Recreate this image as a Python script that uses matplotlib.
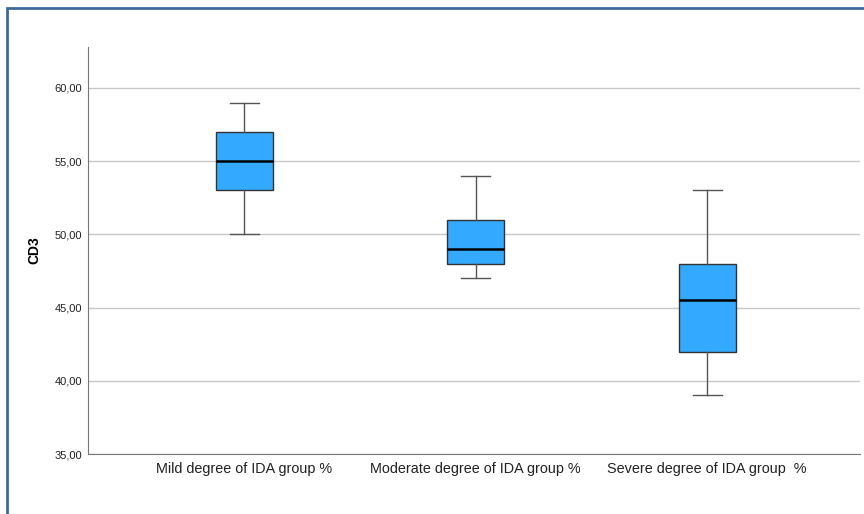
import matplotlib
matplotlib.use('Agg')
import matplotlib.pyplot as plt
from matplotlib.patches import Rectangle
from matplotlib.ticker import FuncFormatter

plt.rcParams['font.family'] = ['Liberation Sans', 'DejaVu Sans']

# Box statistics
groups = ['Mild degree of IDA group %',
	'Moderate degree of IDA group %',
	'Severe degree of IDA group  %']
lo_whisker = [50., 47., 39.]
q1 = [53., 48., 42.]
median = [55., 49., 45.5]
q3 = [57., 51., 48.]
hi_whisker = [59., 54., 53.]

stats = []
for name, lo, a, m, b, hi in zip(groups, lo_whisker, q1, median, q3, hi_whisker):
	stats.append({'label':name, 'whislo':lo, 'q1':a, 'med':m, 'q3':b, 'whishi':hi, 'fliers':[]})

f = plt.figure(figsize=(8.64, 5.14), dpi=100)
ax1 = f.add_axes([88/864., 1-454/514., (860-88)/864., (454-47)/514.])

# outer frame like the SPSS viewer
f.add_artist(Rectangle((7/864., -0.1), 1.1, 1-8/514.+0.1, transform=f.transFigure,
	fill=False, ec='#3d6a9a', lw=2.0))

ax1.yaxis.grid(True, color='#c8c8c8', lw=1.0, zorder=0)
ax1.set_axisbelow(True)

ax1.bxp(stats, positions=range(len(groups)), widths=0.246, patch_artist=True,
	showfliers=False,
	boxprops={'facecolor':'#33aaff', 'edgecolor':'#333333', 'lw':1.0},
	medianprops={'color':'k', 'lw':1.8},
	whiskerprops={'color':'#555555', 'lw':1.0},
	capprops={'color':'#555555', 'lw':1.0},
	capwidths=0.125)

ax1.set_xlim(-0.674, 2.66)
ax1.set_ylim(35., 62.8)
ax1.set_yticks([35, 40, 45, 50, 55, 60])
ax1.yaxis.set_major_formatter(FuncFormatter(lambda v, p: ('%.2f' % v).replace('.', ',')))
ax1.tick_params(axis='y', length=0, labelsize=8, pad=4, colors='#222222')
ax1.tick_params(axis='x', length=0, labelsize=10.4, pad=6, colors='#222222')
for s in ['top', 'right']:
	ax1.spines[s].set_visible(False)
for s in ['left', 'bottom']:
	ax1.spines[s].set_color('#777777')
ax1.set_ylabel('CD3', fontweight='bold', fontsize=10, labelpad=10)

f.savefig('out.png', dpi=100)
